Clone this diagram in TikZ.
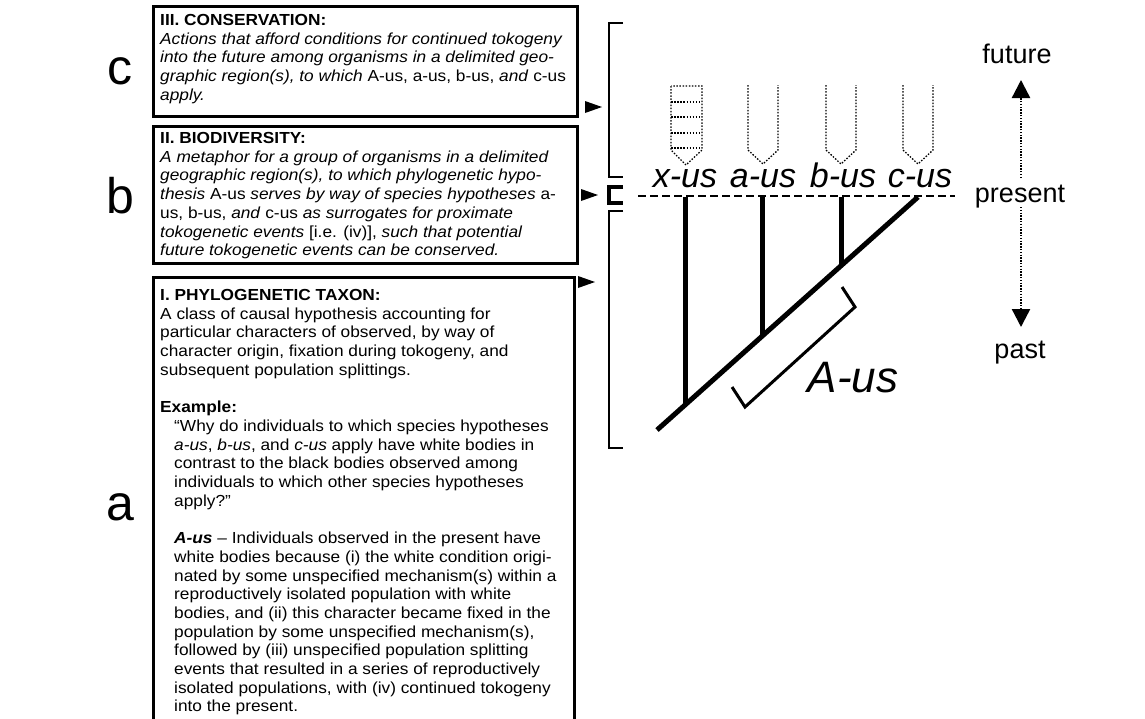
\documentclass[tikz,border=0pt]{standalone}
\usepackage{fontspec}
\setmainfont{Liberation Sans}
\newfontfamily\bodyf{Liberation Sans}[FakeStretch=1.08]
\usetikzlibrary{arrows.meta}
\newcommand{\boxtxt}[1]{\parbox[t]{440pt}{\bodyf\fontsize{16}{18.7}\selectfont\raggedright #1}}
\newcommand{\ind}{\hspace*{14pt}}
\begin{document}
\begin{tikzpicture}[x=1pt,y=-1pt,
  boxst/.style={draw, line width=2.6pt, inner sep=0pt, minimum width=424pt, anchor=north west},
  txt/.style={anchor=base west, inner sep=0pt},
  biglab/.style={font=\fontsize{50}{50}\selectfont, anchor=base, inner sep=0pt},
  brk/.style={line width=2.6pt},
  ptr/.style={fill=black},
  branch/.style={line width=5pt},
  tube/.style={line width=1.3pt, dash pattern=on 1.5pt off 1.6pt},
  spl/.style={font=\fontsize{34}{34}\selectfont\itshape, anchor=base, inner sep=0pt},
  timel/.style={font=\fontsize{27}{27}\selectfont, inner sep=0pt, anchor=base},
  timear/.style={line width=2.4pt, dash pattern=on 1.4pt off 1.4pt, -{Triangle[width=18pt,length=18pt]}},
  presentline/.style={line width=2.5pt, dash pattern=on 8pt off 4pt}
]
\useasboundingbox (0,0) rectangle (1145,718);

% ---- boxes ----
\node[boxst, minimum height=110pt] (boxc) at (152,5) {};
\node[boxst, minimum height=137pt] (boxb) at (152,125) {};
\node[boxst, minimum width=421pt, minimum height=470pt] (boxa) at (152,276) {};

% ---- box texts ----
\node[txt] (textc) at (160,25.5) {\boxtxt{%
\textbf{III. CONSERVATION:}\\
\textit{Actions that afford conditions for continued tokogeny}\\
\textit{into the future among organisms in a delimited geo-}\\
\textit{graphic region(s), to which} A-us, a-us, b-us, \textit{and} c-us\\
\textit{apply.}}};

\node[txt] (textb) at (160,143.5) {\boxtxt{%
\textbf{II. BIODIVERSITY:}\\
\textit{A metaphor for a group of organisms in a delimited}\\
\textit{geographic region(s), to which phylogenetic hypo-}\\
\textit{thesis} A-us \textit{serves by way of species hypotheses} a-\\
us, b-us, \textit{and} c-us \textit{as surrogates for proximate}\\
\textit{tokogenetic events} [i.e. (iv)], \textit{such that potential}\\
\textit{future tokogenetic events can be conserved.}}};

\node[txt] (texta) at (160,300.5) {\boxtxt{%
\textbf{I. PHYLOGENETIC TAXON:}\\
A class of causal hypothesis accounting for\\
particular characters of observed, by way of\\
character origin, fixation during tokogeny, and\\
subsequent population splittings.\\[18.7pt]
\textbf{Example:}\\
\ind “Why do individuals to which species hypotheses\\
\ind \textit{a-us}, \textit{b-us}, and \textit{c-us} apply have white bodies in\\
\ind contrast to the black bodies observed among\\
\ind individuals to which other species hypotheses\\
\ind apply?”\\[18.7pt]
\ind \textbf{\textit{A-us}} – Individuals observed in the present have\\
\ind white bodies because (i) the white condition origi-\\
\ind nated by some unspecified mechanism(s) within a\\
\ind reproductively isolated population with white\\
\ind bodies, and (ii) this character became fixed in the\\
\ind population by some unspecified mechanism(s),\\
\ind followed by (iii) unspecified population splitting\\
\ind events that resulted in a series of reproductively\\
\ind isolated populations, with (iv) continued tokogeny\\
\ind into the present.}};

% ---- side letters ----
\node[biglab] (labc) at (120,84) {c};
\node[biglab] (labb) at (120,213) {b};
\node[biglab] (laba) at (120,520) {a};

% ---- pointers ----
\fill[ptr] (585,101) -- (602,107) -- (585,113) -- cycle;
\fill[ptr] (581,189) -- (598,195) -- (581,201) -- cycle;
\fill[ptr] (578,276) -- (595,282) -- (578,288) -- cycle;

% ---- brackets ----
\draw[brk] (623,23) -- (609,23) -- (609,177) -- (623,177);
\draw[line width=3.6pt] (623,187) -- (609,187) -- (609,203) -- (623,203);
\draw[brk] (623,211) -- (609,211) -- (609,448) -- (623,448);

% ---- present line ----
\coordinate (pl) at (638,196);
\coordinate (pr) at (955,196);
\draw[presentline] (pl) -- (pr);

% ---- tree ----
\coordinate (root) at (657,430);
\coordinate (ctop) at (918,197);
\coordinate (xtop) at (685,197);
\coordinate (xbot) at (685,405);
\coordinate (atop) at (762,197);
\coordinate (abot) at (762,336);
\coordinate (btop) at (841,197);
\coordinate (bbot) at (841,266);
\draw[branch] (root) -- (ctop);
\draw[branch] (xtop) -- (xbot);
\draw[branch] (atop) -- (abot);
\draw[branch] (btop) -- (bbot);

% ---- A-us bracket ----
\draw[line width=3pt] (732,387) -- (745,407) -- (855,307) -- (842,287);
\node[font=\fontsize{44}{44}\selectfont\itshape, inner sep=0pt] (Aus) at (853,378) {A-us};

% ---- dotted tubes ----
\draw[tube] (671,86) -- (671,150) -- (686,165) -- (702,150) -- (702,86) -- cycle;
\foreach \yy in {102,117,133,148} \draw[tube] (671,\yy) -- (702,\yy);
\draw[tube] (748,85) -- (748,150) -- (763,164) -- (778,150) -- (778,85);
\draw[tube] (826,85) -- (826,150) -- (841,164) -- (856,150) -- (856,85);
\draw[tube] (903,85) -- (903,150) -- (918,164) -- (933,150) -- (933,85);

% ---- species labels ----
\node[spl] (xus) at (685,187) {x-us};
\node[spl] (aus) at (763,187) {a-us};
\node[spl] (bus) at (843,187) {b-us};
\node[spl] (cus) at (920,187) {c-us};

% ---- time axis ----
\node[timel] (future) at (1017,63) {future};
\node[timel] (present) at (1020,202) {present};
\node[timel] (past) at (1020,358) {past};
\coordinate (upS) at (1021,178);
\coordinate (upE) at (1021,80);
\coordinate (dnS) at (1021,207);
\coordinate (dnE) at (1021,327);
\draw[timear] (upS) -- (upE);
\draw[timear] (dnS) -- (dnE);
\end{tikzpicture}
\end{document}
